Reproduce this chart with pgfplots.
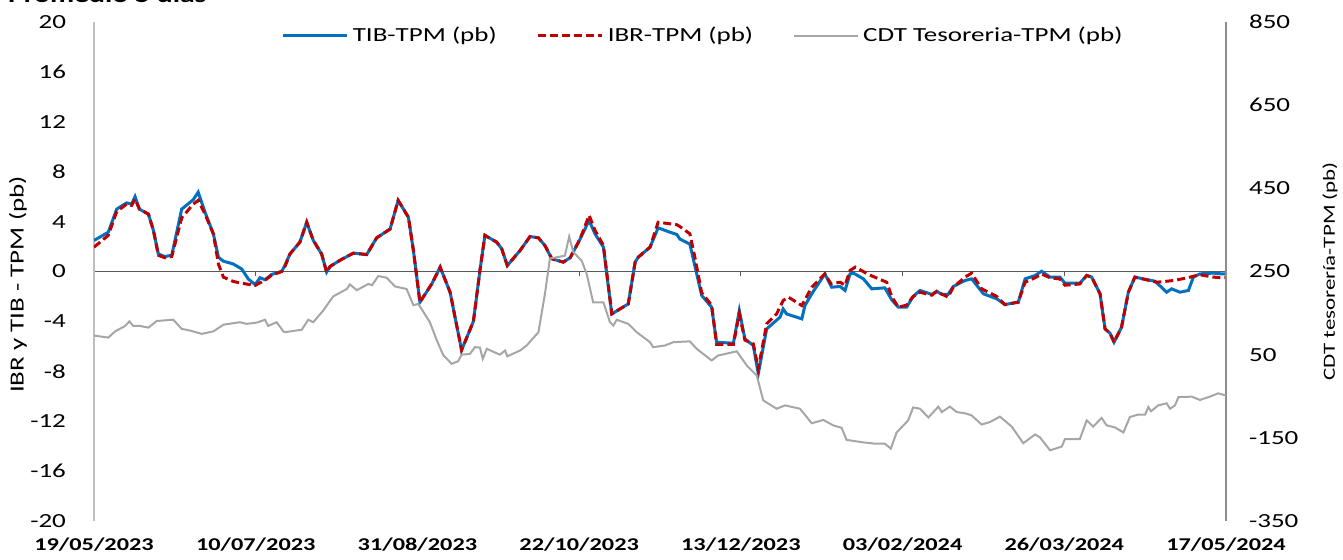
\documentclass[border=0pt]{standalone}
\usepackage{fontspec}
\setmainfont{Carlito}[FakeStretch=1.35]
\usepackage{pgfplots}
\pgfplotsset{compat=1.18}
\definecolor{tibblue}{HTML}{0070C0}
\definecolor{ibrred}{HTML}{C00000}
\definecolor{cdtgray}{HTML}{A6A6A6}
\definecolor{zeroline}{HTML}{595959}
\definecolor{leftax}{HTML}{BFBFBF}
\definecolor{rightax}{HTML}{8C8C8C}

\begin{document}
\begin{tikzpicture}
\pgfplotsset{
  base/.style={
    width=566pt, height=249.5pt, scale only axis,
    xmin=0, xmax=364,
    /pgf/number format/assume math mode=true,
    tick label style={font=\fontsize{10}{12}\selectfont},
    ytick style={draw=none},
  },
}
% eje izquierdo: TIB e IBR
\begin{axis}[base, name=ax1,
  ymin=-20, ymax=20, ytick={-20,-16,...,20},
  axis y line*=left, axis x line*=middle,
  y axis line style={leftax, line width=0.6pt, -},
  x axis line style={zeroline, line width=0.8pt, -},
  xtick={0,52,...,364},
  xticklabels={19/05/2023,10/07/2023,31/08/2023,22/10/2023,13/12/2023,03/02/2024,26/03/2024,17/05/2024},
  hide obscured x ticks=false,
  tick align=outside, major tick length=2.5pt,
  xtick style={zeroline, line width=0.6pt},
  xticklabel style={font=\bfseries\fontsize{9}{11}\selectfont, anchor=center, yshift=-134pt},
  yticklabel style={anchor=east, xshift=-8pt},
  ylabel={IBR y TIB - TPM (pb)},
  every axis y label/.style={at={([xshift=-38pt,yshift=-6.5pt]rel axis cs:0,0.5)}, rotate=90, anchor=center, font=\fontsize{10}{12}\selectfont},
  legend style={at={(0.539,0.972)}, anchor=center, draw=none, fill=none,
    font=\fontsize{10}{12}\selectfont, legend columns=3,
    /tikz/every even column/.append style={column sep=18pt}},
  legend cell align=left,
  legend image code/.code={\draw[#1] (0pt,0pt) -- (32pt,0pt);},
]
\addplot[tibblue, line width=1.5pt] coordinates {
(0,2.49) (4.6,3.15) (7.3,5.0) (10.5,5.5) (12.1,5.4) (13.2,6.0) (14.6,5.0) (17.5,4.6) (19.1,3.3) (20.7,1.4) (22.8,1.2) (25.0,1.3)
(28.2,5.0) (31.9,5.75) (33.5,6.36) (35.7,4.75) (38.4,3.0) (40.0,1.15) (41.6,0.83) (44.8,0.6) (47.5,0.2) (49.6,-0.6) (51.8,-1.05)
(53.4,-0.5) (55.0,-0.66) (57.1,-0.24) (60.4,0.02) (61.4,0.5) (63.0,1.4) (66.2,2.35) (68.4,3.95) (70.5,2.5) (73.2,1.4) (74.8,-0.05)
(75.9,0.4) (79.1,0.9) (83.4,1.47) (87.7,1.36) (90.9,2.7) (95.2,3.4) (97.8,5.7) (101.1,4.35) (102.7,1.7) (104.8,-2.46) (108.6,-1.0)
(111.3,0.35) (114.5,-1.66) (118.2,-6.3) (122.0,-4.0) (124.1,0.08) (125.7,2.9) (129.5,2.35) (131.1,1.82) (132.9,0.48) (137.0,1.68)
(140.2,2.8) (142.9,2.7) (145.0,2.08) (147.2,1.02) (150.9,0.75) (153.1,1.1) (156.3,2.6) (159.2,4.09) (161.1,3.02) (163.8,1.95)
(166.5,-3.4) (171.8,-2.6) (174.0,0.75) (175.0,1.15) (178.8,1.95) (181.4,3.5) (185.2,3.15) (187.4,2.97) (188.4,2.6) (191.6,2.2)
(193.8,-0.19) (195.4,-1.92) (198.6,-2.86) (200.2,-5.67) (205.6,-5.75) (207.5,-3.13) (209.3,-5.4) (212.0,-5.93) (213.6,-8.2)
(216.3,-4.6) (220.6,-3.66) (221.6,-3.0) (222.7,-3.4) (227.6,-3.8) (228.6,-2.73) (230.8,-1.79) (235.0,-0.19) (237.2,-1.26)
(239.9,-1.2) (241.5,-1.52) (243.1,-0.19) (244.2,-0.13) (247.4,-0.59) (250.1,-1.39) (254.3,-1.31) (256.5,-2.27) (258.6,-2.86)
(261.3,-2.86) (263.4,-2.0) (265.6,-1.52) (269.4,-1.84) (271.0,-1.58) (272.6,-1.84) (274.6,-1.84) (276.3,-1.2) (280.1,-0.72)
(282.2,-0.59) (286.0,-1.79) (290.3,-2.19) (292.9,-2.65) (297.2,-2.46) (299.4,-0.59) (302.6,-0.32) (304.7,0.02) (307.4,-0.45)
(310.6,-0.45) (312.2,-0.94) (317.0,-0.94) (319.2,-0.32) (320.8,-0.45) (323.5,-1.79) (325.1,-4.6) (326.7,-4.95) (328.0,-5.67)
(330.4,-4.47) (332.6,-1.66) (334.7,-0.45) (337.4,-0.59) (341.2,-0.78) (344.9,-1.66) (346.5,-1.39) (349.2,-1.66) (351.9,-1.52)
(353.5,-0.45) (355.6,-0.19) (359.9,-0.13) (362.6,-0.19) (364,-0.2)
};
\addlegendentry{TIB-TPM (pb)}
\addplot[ibrred, line width=1.5pt, dash pattern=on 4pt off 2pt] coordinates {
(0,1.95) (4.6,2.9) (7.3,4.8) (10.5,5.4) (12.1,5.3) (13.2,5.8) (14.6,5.0) (17.5,4.6) (19.1,3.3) (20.7,1.3) (22.8,1.1) (25.0,1.2)
(28.2,4.3) (31.9,5.4) (33.5,5.7) (35.7,4.6) (38.4,3.0) (40.0,0.6) (41.6,-0.45) (44.8,-0.8) (47.5,-0.94) (51.8,-1.12) (55.0,-0.7)
(57.1,-0.3) (60.4,0.0) (61.4,0.4) (63.0,1.4) (66.2,2.35) (68.4,3.95) (70.5,2.5) (73.2,1.4) (74.8,-0.05) (75.9,0.4) (79.1,0.9)
(83.4,1.47) (87.7,1.36) (90.9,2.7) (95.2,3.4) (97.8,5.7) (101.1,4.35) (102.7,1.7) (104.8,-2.46) (108.6,-1.0) (111.3,0.35)
(114.5,-1.66) (118.2,-6.3) (122.0,-4.0) (124.1,0.08) (125.7,2.9) (129.5,2.35) (131.1,1.82) (132.9,0.48) (137.0,1.68) (140.2,2.8)
(142.9,2.7) (145.0,2.08) (147.2,1.02) (150.9,0.75) (153.1,1.1) (156.3,2.6) (159.2,4.5) (161.1,3.3) (163.8,2.1) (166.5,-3.4)
(171.8,-2.6) (174.0,0.75) (175.0,1.15) (178.8,1.95) (181.4,3.95) (185.2,3.82) (187.4,3.75) (188.4,3.6) (191.6,3.02) (193.2,1.15)
(195.4,-1.7) (198.6,-2.7) (200.2,-5.85) (205.6,-5.85) (207.5,-3.4) (209.3,-5.5) (212.0,-5.8) (213.6,-7.8) (216.3,-4.2)
(219.5,-3.4) (221.6,-2.33) (223.3,-2.06) (227.6,-2.73) (230.8,-1.26) (235.0,-0.19) (237.0,-0.99) (239.9,-0.86) (241.5,-1.1)
(243.1,0.08) (244.8,0.35) (245.8,0.22) (249.0,-0.24) (254.9,-0.86) (256.5,-2.0) (258.6,-2.86) (261.3,-2.7) (263.4,-2.0)
(265.6,-1.66) (269.4,-1.9) (271.0,-1.6) (274.6,-2.06) (276.3,-1.26) (280.1,-0.45) (282.2,-0.13) (285.4,-1.39) (290.3,-2.0)
(292.9,-2.65) (297.2,-2.46) (299.4,-0.86) (302.6,-0.5) (304.7,-0.2) (307.4,-0.5) (310.6,-0.6) (312.2,-1.1) (317.0,-1.0)
(319.2,-0.32) (320.8,-0.45) (323.5,-1.79) (325.1,-4.6) (326.7,-4.95) (328.0,-5.67) (330.4,-4.47) (332.6,-1.66) (334.7,-0.45)
(341.7,-0.86) (347.3,-0.72) (351.6,-0.5) (355.6,-0.26) (359.9,-0.45) (362.6,-0.5) (364,-0.5)
};
\addlegendentry{IBR-TPM (pb)}
\addlegendimage{cdtgray, line width=1pt}
\addlegendentry{CDT Tesoreria-TPM (pb)}
\end{axis}
% eje derecho: CDT tesoreria
\begin{axis}[base,
  ymin=-350, ymax=850, ytick={-350,-150,...,850},
  axis y line*=right, axis x line=none,
  y axis line style={rightax, line width=1pt, -},
  yticklabel style={anchor=west, xshift=8pt},
  ylabel={CDT tesorería-TPM (pb)},
  every axis y label/.style={at={([xshift=52pt]rel axis cs:1,0.5)}, rotate=90, anchor=center, font=\fontsize{8.5}{10}\selectfont},
]
\addplot[cdtgray, line width=1pt] coordinates {
(0,96) (4.6,91) (6.8,106) (10.0,119) (11.4,130) (12.6,119) (14.8,119) (17.5,115) (20.2,131) (25.5,134) (28.2,112) (30.9,108)
(34.6,100) (38.4,106) (41.6,122) (46.9,128) (49.1,124) (52.3,127) (55.0,134) (56.0,119) (58.7,128) (60.9,106) (61.4,104)
(66.8,110) (68.9,134) (70.5,128) (73.7,156) (76.9,190) (81.3,208) (82.3,219) (84.5,205) (88.2,220) (89.4,217) (91.4,239)
(94.1,235) (96.8,214) (100.5,208) (102.7,169) (104.3,172) (108.0,128) (110.2,85) (112.3,49) (115.0,28) (117.1,34) (118.2,50)
(120.9,52) (122.5,68) (124.1,67) (125.0,40) (126.3,64) (130.5,50) (132.2,60) (132.9,46) (137.0,60) (139.1,72) (142.9,104)
(145.0,196) (146.6,281) (151.4,288) (152.8,334) (154.1,297) (156.8,276) (158.4,245) (160.5,176) (163.8,176) (165.9,128)
(167.0,120) (168.1,134) (171.8,124) (174.5,104) (178.8,80) (179.8,68) (183.6,72) (186.3,80) (191.6,82) (193.8,64) (198.6,36)
(200.7,48) (206.7,58) (209.9,24) (213.1,0) (215.2,-60) (219.5,-80) (222.2,-72) (227.0,-80) (230.8,-115) (234.5,-107)
(237.7,-120) (240.4,-126) (242.0,-155) (244.7,-158) (247.4,-161) (251.1,-164) (254.3,-164) (256.2,-176) (258.1,-137)
(261.8,-108) (263.4,-77) (265.6,-80) (268.3,-101) (271.5,-75) (272.6,-88) (275.2,-75) (277.4,-88) (280.1,-91) (282.2,-96)
(285.4,-118) (288.1,-112) (291.3,-99) (295.1,-123) (298.8,-163) (302.6,-142) (304.2,-149) (307.4,-180) (311.2,-171)
(312.2,-153) (317.0,-153) (319.2,-108) (321.3,-123) (324.0,-102) (325.6,-120) (328.3,-125) (331.0,-137) (333.1,-100)
(335.8,-94) (338.0,-94) (339.0,-76) (339.9,-86) (342.2,-72) (344.9,-67) (346.0,-80) (347.6,-72) (348.7,-52) (353.0,-51)
(355.6,-59) (358.8,-51) (361.5,-43) (362.9,-46) (364,-48)
};
\end{axis}
\node[anchor=base west, font=\bfseries\fontsize{11}{13}\selectfont] at ([xshift=-46.5pt,yshift=9.5pt]ax1.north west) {Promedio 5 días};
\pgfresetboundingbox
\path ([xshift=-47pt,yshift=-19.5pt]ax1.south west) rectangle ([xshift=58.5pt,yshift=11pt]ax1.north east);
\end{tikzpicture}
\end{document}
